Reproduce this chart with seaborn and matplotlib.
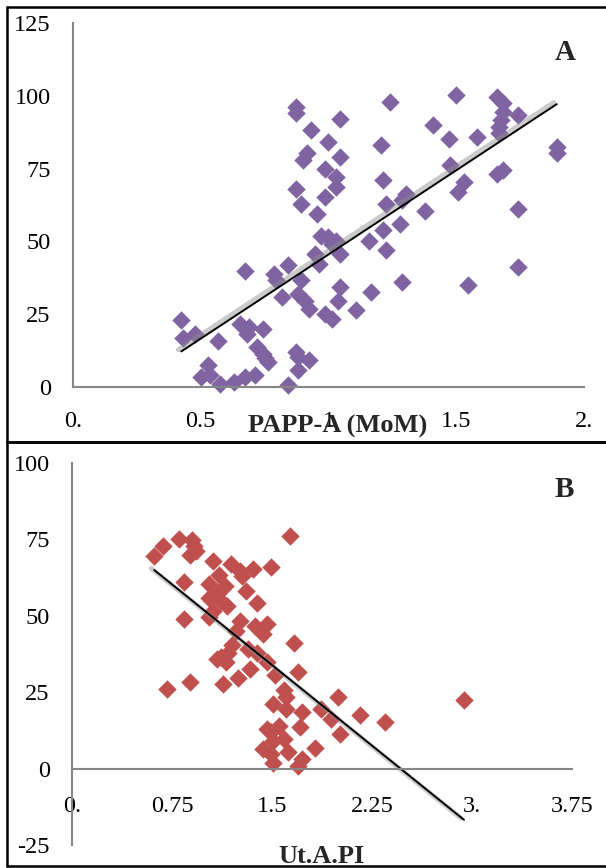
import seaborn as sns
import matplotlib.pyplot as plt
import matplotlib.patheffects as pe
from matplotlib.lines import Line2D

# panel A: PAPP-A (MoM) against score
papp_mom = [0.424, 0.432, 0.477, 0.568, 0.500, 0.530, 0.538, 0.576, 0.629, 0.674,
            0.712, 0.674, 0.652, 0.689, 0.682, 0.742, 0.720, 0.742, 0.750, 0.765,
            0.788, 0.795, 0.841, 0.818, 0.879, 0.894, 0.841, 0.871, 0.879, 0.879,
            0.924, 0.909, 0.924, 0.985, 1.015, 0.947, 0.962, 0.970, 1.015, 1.000,
            1.030, 1.045, 1.045, 1.038, 1.106, 1.159, 1.167, 1.212, 1.227, 1.280,
            1.288, 1.545, 1.742,
            0.871, 0.871, 0.932, 1.045, 1.000, 0.917, 0.902, 1.045, 0.985, 1.030,
            1.030, 0.871, 0.894, 0.985, 0.955, 1.242, 1.205, 1.212, 1.227, 1.303,
            1.288, 1.379, 1.409, 1.500, 1.470, 1.583, 1.477, 1.530, 1.508, 1.659,
            1.682, 1.682, 1.674, 1.667, 1.667, 1.742, 1.659, 1.682, 1.742, 1.894,
            1.894]
score_a = [22.9, 16.9, 18.3, 15.8, 3.4, 7.4, 4.0, 1.1, 1.7, 3.4,
           4.0, 40.0, 21.7, 20.6, 18.3, 20.0, 13.7, 11.4, 10.0, 8.6,
           38.9, 36.6, 41.8, 30.9, 32.0, 36.6, 0.6, 12.0, 10.3, 5.7,
           9.2, 29.7, 26.9, 25.2, 23.5, 45.8, 42.3, 52.0, 49.2, 51.5,
           50.3, 45.8, 34.3, 29.7, 26.3, 50.3, 32.6, 53.8, 46.9, 56.0,
           36.0, 34.9, 41.2,
           96.3, 94.0, 88.2, 92.2, 84.2, 80.2, 77.9, 79.0, 75.0, 72.1,
           68.7, 68.1, 62.9, 65.2, 59.5, 98.0, 83.0, 71.0, 62.9, 66.4,
           64.1, 60.6, 89.9, 100.3, 85.3, 85.9, 76.1, 70.4, 66.9, 99.7,
           97.4, 94.5, 91.7, 89.4, 87.1, 93.4, 73.3, 74.5, 61.2, 82.5,
           80.2]

# panel B: Ut.A.PI against score
uta_pi = [0.617, 0.680, 0.802, 0.898, 0.912, 0.927, 0.883, 1.057, 1.196, 1.260,
          1.361, 1.491, 1.636, 0.840, 0.840, 1.100, 1.028, 1.144, 1.086, 1.028,
          1.115, 1.159, 1.057, 1.028, 1.303, 1.274, 1.390, 1.260, 1.231, 1.375,
          1.462, 1.433, 1.202, 1.318, 1.665, 1.115,
          1.086, 1.158, 1.173, 1.332, 1.245, 1.129, 0.883, 0.709, 1.390, 1.462,
          1.520, 1.694, 1.593, 1.607, 1.506, 1.607, 1.723, 1.998, 1.868, 1.940,
          2.157, 2.346, 2.940, 1.709, 2.013, 1.825, 1.462, 1.491, 1.549, 1.506,
          1.593, 1.433, 1.491, 1.622, 1.506, 1.694, 1.723]
score_b = [69.5, 72.9, 75.1, 74.7, 72.7, 71.1, 70.0, 67.9, 67.1, 64.6,
           65.2, 66.0, 76.0, 61.0, 48.9, 63.5, 60.3, 59.7, 57.0, 56.0,
           54.9, 53.2, 51.6, 49.5, 58.1, 63.0, 54.3, 48.4, 45.1, 46.8,
           47.3, 44.0, 40.3, 39.2, 41.1, 36.5,
           36.0, 34.9, 37.7, 32.7, 29.5, 27.8, 28.4, 26.2, 37.7, 34.9,
           30.5, 31.6, 25.6, 23.4, 21.2, 19.6, 18.5, 23.4, 19.6, 16.3,
           17.4, 15.2, 22.3, 13.5, 11.3, 6.9, 13.0, 11.9, 14.1, 9.1,
           9.7, 6.4, 4.7, 5.3, 2.0, 0.9, 3.1]

a_xticks = [0, 0.5, 1, 1.5, 2]
a_xtick_labels = ["0.", "0.5", "1", "1.5", "2."]
a_yticks = [0, 25, 50, 75, 100, 125]
b_xticks = [0, 0.75, 1.5, 2.25, 3, 3.75]
b_xtick_labels = ["0.", "0.75", "1.5", "2.25", "3.", "3.75"]
b_yticks = [-25, 0, 25, 50, 75, 100]

sns.set_style("white")
plt.rcParams['font.family'] = ['Liberation Serif', 'DejaVu Serif']
plt.rcParams['axes.unicode_minus'] = False

AXIS_GREY = '#868686'
shadow = [pe.SimpleLineShadow(offset=(-2.2, 1.2), shadow_color='0.55', alpha=0.45, linewidth=3.5),
          pe.Normal()]

fig = plt.figure(figsize=(6.06, 8.68), dpi=100)
ax_a = fig.add_axes([0.1205, 0.5541, 0.843, 0.4194])
ax_b = fig.add_axes([0.1188, 0.0265, 0.825, 0.440])


def style_axis(ax, xpad):
    for side in ['top', 'right']:
        ax.spines[side].set_visible(False)
    for side in ['left', 'bottom']:
        ax.spines[side].set_color(AXIS_GREY)
        ax.spines[side].set_linewidth(1.5)
    ax.tick_params(axis='both', colors=AXIS_GREY, labelcolor='black', length=5, width=1.5,
                   labelsize=17.5, direction='out')
    ax.tick_params(axis='y', pad=11)
    ax.tick_params(axis='x', pad=xpad)
    ax.set_xlabel('')
    ax.set_ylabel('')


sns.regplot(x=papp_mom, y=score_a, ax=ax_a, ci=None, marker='D',
            scatter_kws=dict(color='#8064A2', s=88, linewidths=0, alpha=1, clip_on=False),
            line_kws=dict(color='black', linewidth=1.4, path_effects=shadow))
ax_a.set_xlim(0, 2)
ax_a.set_ylim(0, 125)
ax_a.set_xticks(a_xticks, a_xtick_labels)
ax_a.set_yticks(a_yticks)
style_axis(ax_a, 12)
ax_a.text(0.517, -0.124, 'PAPP-A (MoM)', transform=ax_a.transAxes, ha='center',
          va='baseline', fontsize=19, fontweight='bold')
ax_a.text(0.963, 0.898, 'A', transform=ax_a.transAxes, ha='center', va='baseline',
          fontsize=21, fontweight='bold')

sns.regplot(x=uta_pi, y=score_b, ax=ax_b, ci=None, marker='D',
            scatter_kws=dict(color='#C0504D', s=88, linewidths=0, alpha=1, clip_on=False),
            line_kws=dict(color='black', linewidth=1.4, path_effects=shadow))
ax_b.set_xlim(0, 3.75)
ax_b.set_ylim(-25, 100)
ax_b.spines['bottom'].set_position(('data', 0))
ax_b.set_xticks(b_xticks, b_xtick_labels)
ax_b.set_yticks(b_yticks)
style_axis(ax_b, 15)
ax_b.text(0.5, -0.047, 'Ut.A.PI', transform=ax_b.transAxes, ha='center',
          va='baseline', fontsize=19, fontweight='bold')
ax_b.text(0.985, 0.911, 'B', transform=ax_b.transAxes, ha='center', va='baseline',
          fontsize=21, fontweight='bold')

# panel frames
fx0, fx1 = 7 / 606, 1.0
for top, bottom in [(7, 442), (442, 866)]:
    yt = 1 - top / 868
    yb = 1 - bottom / 868
    fig.add_artist(Line2D([fx0, fx1], [yt, yt], color='black', linewidth=1.8))
    fig.add_artist(Line2D([fx0, fx1], [yb, yb], color='black', linewidth=1.8))
    fig.add_artist(Line2D([fx0, fx0], [yt, yb], color='black', linewidth=1.8))

fig.savefig('out.png', dpi=100)
